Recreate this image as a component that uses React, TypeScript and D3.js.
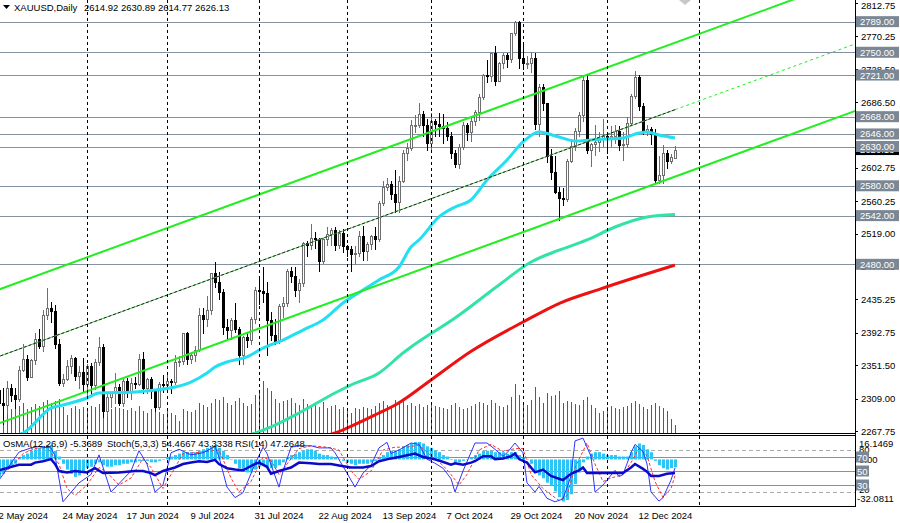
import React from "react";
import * as d3 from "d3";

// ---------- DATA ----------
const opens = [
  2320, 2303, 2301, 2322, 2314, 2309, 2346, 2360, 2336, 2358,
  2385, 2376, 2415, 2425, 2421, 2379, 2329, 2334, 2350, 2361,
  2338, 2343, 2327, 2350, 2326, 2355, 2375, 2293, 2311, 2316,
  2324, 2303, 2332, 2319, 2329, 2328, 2360, 2322, 2334, 2319,
  2298, 2327, 2326, 2331, 2330, 2356, 2357, 2392, 2359, 2364,
  2371, 2415, 2411, 2422, 2469, 2458, 2445, 2400, 2396, 2409,
  2397, 2364, 2387, 2384, 2410, 2447, 2446, 2443, 2409, 2390,
  2382, 2427, 2431, 2472, 2465, 2447, 2456, 2507, 2504, 2514,
  2512, 2484, 2512, 2518, 2524, 2504, 2520, 2503, 2500, 2493,
  2495, 2516, 2497, 2506, 2516, 2512, 2558, 2578, 2582, 2569,
  2559, 2586, 2622, 2628, 2657, 2657, 2672, 2658, 2634, 2662,
  2659, 2656, 2653, 2644, 2622, 2608, 2630, 2657, 2649, 2662,
  2674, 2693, 2721, 2720, 2749, 2714, 2736, 2747, 2742, 2774,
  2788, 2743, 2736, 2736, 2743, 2659, 2706, 2685, 2618, 2598,
  2572, 2565, 2563, 2612, 2631, 2650, 2670, 2715, 2625, 2633,
  2636, 2640, 2643, 2640, 2643, 2650, 2632, 2633, 2660, 2694,
  2718, 2681, 2648, 2652, 2646, 2587, 2594, 2622, 2612, 2614.92,
];
const highs = [
  2326, 2323, 2331, 2327, 2323, 2351, 2378, 2364, 2359, 2392,
  2397, 2422, 2450, 2432, 2428, 2385, 2340, 2358, 2364, 2362,
  2351, 2361, 2353, 2354, 2360, 2387, 2379, 2315, 2318, 2342,
  2327, 2334, 2335, 2335, 2336, 2366, 2368, 2335, 2336, 2320,
  2330, 2339, 2339, 2334, 2364, 2363, 2393, 2394, 2368, 2376,
  2424, 2425, 2440, 2469, 2483, 2470, 2448, 2410, 2412, 2431,
  2400, 2389, 2392, 2413, 2451, 2462, 2477, 2458, 2419, 2411,
  2429, 2439, 2474, 2477, 2477, 2461, 2509, 2510, 2531, 2521,
  2514, 2514, 2528, 2526, 2528, 2524, 2525, 2505, 2503, 2503,
  2523, 2529, 2508, 2517, 2528, 2560, 2586, 2590, 2586, 2600,
  2593, 2625, 2634, 2664, 2670, 2685, 2675, 2665, 2673, 2665,
  2673, 2671, 2661, 2648, 2625, 2633, 2661, 2660, 2667, 2676,
  2697, 2722, 2740, 2749, 2758, 2738, 2749, 2749, 2775, 2790,
  2790, 2760, 2745, 2750, 2749, 2710, 2709, 2686, 2627, 2618,
  2579, 2577, 2614, 2639, 2653, 2674, 2721, 2721, 2634, 2657,
  2648, 2665, 2645, 2656, 2658, 2656, 2648, 2667, 2697, 2726,
  2721, 2686, 2658, 2655, 2652, 2618, 2632, 2626, 2620, 2630.89,
];
const lows = [
  2285, 2277, 2291, 2306, 2297, 2306, 2344, 2333, 2336, 2353,
  2373, 2369, 2411, 2407, 2374, 2326, 2325, 2333, 2341, 2333,
  2322, 2319, 2314, 2315, 2321, 2352, 2286, 2287, 2298, 2303,
  2301, 2300, 2311, 2309, 2323, 2326, 2316, 2316, 2310, 2293,
  2296, 2318, 2318, 2316, 2327, 2351, 2353, 2353, 2354, 2357,
  2369, 2393, 2402, 2417, 2451, 2436, 2391, 2384, 2385, 2394,
  2353, 2353, 2375, 2378, 2405, 2430, 2432, 2364, 2384, 2378,
  2380, 2413, 2427, 2457, 2440, 2432, 2453, 2490, 2499, 2501,
  2471, 2482, 2505, 2504, 2498, 2501, 2496, 2490, 2472, 2480,
  2491, 2485, 2486, 2499, 2500, 2510, 2556, 2574, 2563, 2546,
  2547, 2585, 2613, 2625, 2649, 2655, 2643, 2625, 2624, 2643,
  2643, 2634, 2638, 2615, 2604, 2603, 2627, 2638, 2637, 2658,
  2664, 2690, 2712, 2713, 2708, 2713, 2730, 2731, 2737, 2772,
  2730, 2729, 2730, 2725, 2652, 2643, 2677, 2610, 2589, 2571,
  2536, 2555, 2560, 2610, 2625, 2643, 2663, 2622, 2605, 2619,
  2624, 2631, 2622, 2631, 2635, 2626, 2613, 2630, 2658, 2692,
  2676, 2646, 2645, 2633, 2583, 2584, 2583, 2603, 2609, 2614.77,
];
const closes = [
  2303, 2301, 2322, 2314, 2309, 2346, 2360, 2336, 2358, 2385,
  2376, 2415, 2425, 2421, 2379, 2329, 2334, 2350, 2361, 2338,
  2343, 2327, 2350, 2326, 2355, 2375, 2293, 2311, 2316, 2324,
  2303, 2332, 2319, 2329, 2328, 2360, 2322, 2334, 2319, 2298,
  2327, 2326, 2331, 2330, 2356, 2357, 2392, 2359, 2364, 2371,
  2415, 2411, 2422, 2469, 2458, 2445, 2400, 2396, 2409, 2397,
  2364, 2387, 2384, 2410, 2447, 2446, 2443, 2409, 2390, 2382,
  2427, 2431, 2472, 2465, 2447, 2456, 2507, 2504, 2514, 2512,
  2484, 2512, 2518, 2524, 2504, 2520, 2503, 2500, 2493, 2495,
  2516, 2497, 2506, 2516, 2512, 2558, 2578, 2582, 2569, 2559,
  2586, 2622, 2628, 2657, 2657, 2672, 2658, 2634, 2662, 2659,
  2656, 2653, 2644, 2622, 2608, 2630, 2657, 2649, 2662, 2674,
  2693, 2721, 2720, 2749, 2714, 2736, 2747, 2742, 2774, 2788,
  2743, 2736, 2736, 2743, 2659, 2706, 2685, 2618, 2598, 2572,
  2565, 2563, 2612, 2631, 2650, 2670, 2715, 2625, 2633, 2636,
  2640, 2643, 2640, 2643, 2650, 2632, 2633, 2660, 2694, 2718,
  2681, 2648, 2652, 2646, 2587, 2594, 2622, 2612, 2617, 2626.13,
];
const volumes = [
  28, 25, 22, 24, 26, 27, 30, 24, 26, 29,
  27, 31, 33, 30, 32, 34, 26, 18, 25, 27,
  24, 26, 25, 27, 26, 29, 35, 28, 24, 26,
  25, 24, 23, 25, 22, 27, 22, 20, 24, 23,
  21, 19, 22, 20, 18, 12, 24, 22, 21, 23,
  30, 28, 26, 30, 34, 33, 36, 30, 28, 32,
  35, 30, 27, 29, 38, 40, 52, 45, 42, 34,
  30, 32, 33, 35, 30, 28, 34, 29, 27, 30,
  26, 31, 25, 27, 28, 24, 26, 23, 20, 25,
  24, 26, 25, 24, 27, 30, 32, 28, 26, 33,
  30, 34, 28, 30, 27, 29, 26, 28, 30, 27,
  26, 25, 24, 28, 30, 26, 24, 25, 27, 29,
  31, 30, 28, 33, 30, 27, 26, 28, 36, 49,
  38, 30, 28, 33, 46, 36, 30, 40, 37, 38,
  42, 30, 32, 31, 29, 28, 33, 36, 28, 25,
  20, 22, 26, 27, 25, 24, 26, 27, 30, 32,
  29, 26, 24, 28, 30, 27, 25, 22, 14, 8,
];
const osma = [
  -12, -10, -7, -5, -3, 1, 3, 4, 6, 7,
  8, 9, 10, 10, 6, 2, -3, -7, -10, -12,
  -11, -9, -6, -5, -3, -2, -4, -5, -5, -4,
  -4, -3, -3, -2, -2, -1, -1, -1, -2, -2,
  -1, 0, 1, 2, 3, 4, 5, 5, 5, 5,
  6, 7, 8, 9, 10, 8, 6, 3, 0, -3,
  -6, -8, -9, -9, -7, -5, -4, -5, -6, -6,
  -4, -2, 1, 3, 4, 5, 6, 7, 7, 6,
  4, 3, 3, 2, 1, 0, -1, -2, -3, -4,
  -3, -3, -3, -2, -1, 1, 3, 5, 6, 6,
  7, 9, 10, 11, 12, 12, 11, 9, 8, 6,
  5, 3, 2, 0, -2, -2, -1, 0, 1, 3,
  4, 6, 6, 6, 5, 5, 5, 4, 5, 5,
  3, 1, 0, -3, -8, -11, -13, -16, -18, -22,
  -26, -29, -28, -24, -17, -9, -2, 2, 4, 5,
  5, 4, 3, 3, 3, 2, 2, 2, 5, 9,
  11, 10, 7, 5, -1, -4, -6, -7, -6, -5.3689,
];
const stochMain: [number, number][] = [
  [0, 37], [5, 77], [8, 83], [10, 85], [13, 83], [14, 72], [16, 6], [20, 33], [23, 45], [25, 73],
  [28, 20], [33, 50], [35, 79], [37, 60], [39, 20], [41, 30], [43, 76], [45, 81], [48, 73], [51, 76],
  [54, 85], [55, 70], [57, 27], [59, 12], [61, 19], [64, 60], [66, 84], [67, 75], [70, 27], [71, 50],
  [73, 84], [75, 86], [78, 86], [80, 83], [83, 83], [84, 76], [87, 47], [89, 27], [91, 47], [93, 58],
  [95, 83], [97, 91], [98, 75], [100, 80], [103, 90], [105, 88], [107, 67], [109, 61], [111, 54], [113, 39],
  [114, 20], [116, 50], [119, 90], [122, 90], [124, 81], [126, 71], [127, 76], [129, 90], [131, 76], [132, 33],
  [134, 20], [135, 28], [137, 11], [139, 6], [141, 10], [143, 43], [144, 93], [146, 97], [148, 71], [149, 20],
  [151, 30], [154, 51], [155, 42], [156, 45], [158, 76], [159, 88], [161, 78], [162, 60], [163, 20], [165, 7],
  [166, 12], [168, 37], [169, 54.4667],
];
const stochSignal: [number, number][] = [
  [0, 45], [3, 55], [6, 75], [9, 82], [12, 84], [15, 60], [17, 25], [19, 15], [22, 30], [25, 55],
  [27, 48], [30, 30], [33, 40], [36, 68], [38, 55], [41, 25], [43, 45], [46, 75], [49, 76], [52, 78],
  [55, 80], [58, 40], [60, 20], [63, 35], [66, 70], [68, 65], [70, 45], [72, 60], [75, 82], [78, 86],
  [82, 84], [85, 80], [88, 50], [90, 38], [93, 50], [96, 80], [99, 84], [102, 84], [105, 87], [108, 72],
  [111, 58], [113, 45], [115, 30], [117, 45], [120, 80], [123, 88], [126, 78], [129, 82], [131, 82], [133, 45],
  [136, 25], [138, 16], [140, 8], [142, 15], [144, 55], [147, 90], [149, 60], [151, 35], [153, 40], [156, 45],
  [158, 62], [160, 82], [162, 72], [164, 35], [166, 12], [168, 25], [169, 43.3338],
];
const rsi: [number, number][] = [
  [0, 51], [5, 59], [8, 59], [9, 62], [11, 64], [13, 67], [14, 60], [15, 50], [17, 48], [19, 50],
  [22, 48], [24, 54], [26, 47], [30, 48], [34, 50], [36, 50], [38, 47], [39, 44], [41, 50], [44, 55],
  [46, 60], [48, 62], [50, 64], [52, 63], [54, 66], [55, 60], [57, 54], [59, 52], [61, 51], [64, 60],
  [65, 62], [67, 56], [68, 46], [70, 50], [73, 55], [75, 62], [78, 61], [80, 60], [83, 60], [85, 58],
  [88, 55], [91, 55], [93, 57], [95, 64], [98, 68], [100, 70], [104, 75], [106, 70], [108, 68], [110, 65],
  [113, 59], [114, 61], [116, 59], [118, 62], [119, 64], [121, 71], [123, 71], [124, 67], [126, 68], [128, 71],
  [129, 75], [130, 67], [132, 62], [134, 48], [136, 52], [138, 43], [140, 39], [141, 37], [143, 46], [145, 51],
  [146, 55], [147, 47], [150, 47], [153, 47], [156, 47], [158, 55], [159, 60], [161, 53], [162, 49], [163, 43],
  [165, 43], [167, 46], [169, 47.2648],
];
const maFast: [number, number][] = [
  [4, 2262], [6, 2265.2], [13, 2297], [16, 2300.8], [22, 2309.8], [25, 2316.1], [34, 2317.4], [39, 2320], [44, 2323.8],
  [48, 2330.1], [52, 2341.6], [54, 2349.2], [57, 2355.6], [62, 2362], [66, 2373.4], [71, 2383.6], [76, 2396.3],
  [81, 2409], [86, 2430.7], [91, 2447.3], [95, 2460], [100, 2476.6], [103, 2502], [105, 2511], [110, 2540.3],
  [114, 2553], [118, 2561.9], [122, 2587.3], [127, 2612.8], [131, 2635.8], [135, 2648.5], [140, 2642.1],
  [144, 2637], [148, 2638.3], [152, 2639.6], [156, 2640.8], [160, 2647.2], [162, 2648.5], [165, 2644.6], [169, 2640.8],
];
const maMid: [number, number][] = [
  [61, 2260], [64, 2265], [68, 2272.9], [75, 2290.7], [84, 2316.1], [88, 2326.3], [95, 2341.6], [101, 2367],
  [103, 2374.7], [114, 2411.6], [125, 2453.6], [133, 2482.9], [140, 2498], [147, 2511], [154, 2527.5],
  [162, 2540.3], [169, 2543.5],
];
const maSlow: [number, number][] = [
  [81, 2261], [84, 2265.2], [87, 2271.5], [94.5, 2289.4], [99.5, 2302.1], [108, 2332.7], [117.75, 2368.3],
  [131, 2406.5], [140.25, 2430.7], [150.25, 2448.5], [160.25, 2465.1], [169, 2479],
];
const chUpper: [number, number][] = [[0, 2448.0], [169, 2762.2]];
const chMiddle: [number, number][] = [[0, 2362.7], [169, 2676.9]];
const chLower: [number, number][] = [[0, 2277.4], [169, 2591.6]];

const levelPrices = [2789, 2750, 2721, 2668, 2646, 2630, 2580, 2542, 2480];
const priceTicks = [2812.75, 2770.25, 2728.5, 2686.5, 2644.5, 2602.75, 2560.25, 2519.0, 2477.25, 2435.25, 2392.75, 2351.5, 2309.0, 2267.75];
const lastPrice = 2626.13;
const labelIdx = [0, 16, 32, 48, 64, 80, 96, 112, 128, 144, 160];
const labelText = ["2 May 2024", "24 May 2024", "17 Jun 2024", "9 Jul 2024", "31 Jul 2024", "22 Aug 2024", "13 Sep 2024", "7 Oct 2024", "29 Oct 2024", "20 Nov 2024", "12 Dec 2024"];
const monthIdx = [22, 42, 65, 87, 108, 131, 152, 175];
const indLevels = [80, 70, 50, 30, 20];

const FONT = "'Liberation Sans', Arial, sans-serif";

export default function App() {
  const W = 900, H = 523;
  const plotR = 855;
  const mainB = 433;
  const indT = 436, indB = 506;

  const x = d3.scaleLinear().domain([0, 1]).range([-1, 3]);
  const y = d3.scaleLinear().domain([2267.75, 2812.75]).range([431, 3]);
  const yv = d3.scaleLinear().domain([0, 100]).range([mainB, mainB - 100]);
  const yi = d3.scaleLinear().domain([0, 100]).range([indB, indT]);
  const yo = d3.scaleLinear().domain([-32.0811, 16.1469]).range([indB, indT]);

  const n = closes.length;
  const idx = d3.range(n);

  const maLine = d3.line<[number, number]>().x(d => x(d[0])).y(d => y(d[1])).curve(d3.curveMonotoneX);
  const indLine = d3.line<[number, number]>().x(d => x(d[0])).y(d => yi(d[1]));

  const chan = (pts: [number, number][], i0: number, i1: number) => {
    const s = (pts[1][1] - pts[0][1]) / (pts[1][0] - pts[0][0]);
    const p = (i: number) => pts[0][1] + s * (i - pts[0][0]);
    return { x1: x(i0), y1: y(p(i0)), x2: x(i1), y2: y(p(i1)) };
  };
  const cU = chan(chUpper, -2, 220);
  const cL = chan(chLower, -2, 220);
  const cM1 = chan(chMiddle, -2, 169);
  const cM2 = chan(chMiddle, 169, 220);

  const boxW = 41;
  return (
    <svg width={W} height={H} style={{ position: "absolute", left: 0, top: 0, display: "block", background: "#fff" }} fontFamily={FONT}>
      <defs>
        <clipPath id="mainClip"><rect x={0} y={0} width={plotR} height={mainB} /></clipPath>
        <clipPath id="indClip"><rect x={0} y={indT} width={plotR} height={indB - indT} /></clipPath>
      </defs>
      <rect x={0} y={0} width={W} height={H} fill="#fff" />

      {/* main chart */}
      <g clipPath="url(#mainClip)">
        {levelPrices.map(p => (
          <line key={"lv" + p} x1={0} x2={plotR} y1={Math.round(y(p)) + 0.5} y2={Math.round(y(p)) + 0.5} stroke="#8391a0" strokeWidth={1} />
        ))}
        <g shapeRendering="crispEdges">
          {idx.map(i => (
            <rect key={"v" + i} x={Math.round(x(i))} y={Math.round(yv(volumes[i]))} width={1} height={mainB - Math.round(yv(volumes[i]))} fill="#0f8f0f" />
          ))}
        </g>
        <g shapeRendering="crispEdges">
          {idx.map(i => {
            const cx = Math.round(x(i));
            const o = opens[i], c = closes[i];
            const up = c >= o;
            const top = Math.round(y(Math.max(o, c)));
            const bot = Math.round(y(Math.min(o, c)));
            const hh = Math.round(y(highs[i]));
            const ll = Math.round(y(lows[i]));
            const col = up ? "#6e6e6e" : "#000";
            return (
              <g key={"c" + i}>
                <line x1={cx + 0.5} x2={cx + 0.5} y1={hh} y2={ll + 1} stroke={col} strokeWidth={1} />
                {up ? (
                  <rect x={cx - 0.5} y={top + 0.5} width={2} height={Math.max(bot - top, 1)} fill="#fff" stroke={col} strokeWidth={1} />
                ) : (
                  <rect x={cx - 1} y={top} width={3} height={Math.max(bot - top + 1, 1)} fill="#000" />
                )}
              </g>
            );
          })}
        </g>
        <path d={maLine(maSlow) || ""} fill="none" stroke="#ee1111" strokeWidth={3} />
        <path d={maLine(maMid) || ""} fill="none" stroke="#33e3a6" strokeWidth={3} />
        <path d={maLine(maFast) || ""} fill="none" stroke="#22dff2" strokeWidth={3} />
        <line {...cU} stroke="#22ee22" strokeWidth={2} />
        <line {...cL} stroke="#22ee22" strokeWidth={2} />
        <line {...cM1} stroke="#55cc55" strokeWidth={1} />
        <line {...cM1} stroke="#222" strokeWidth={1} strokeDasharray="3,2" />
        <line {...cM2} stroke="#22ee22" strokeWidth={1} strokeDasharray="3,3" />
        <polygon points="679,0 691,0 685,5" fill="#c8c8c8" />
      </g>

      {/* indicator */}
      <g clipPath="url(#indClip)">
        {indLevels.map(l => (
          <line key={"il" + l} x1={0} x2={plotR} y1={Math.round(yi(l)) + 0.5} y2={Math.round(yi(l)) + 0.5}
            stroke={l === 80 || l === 20 ? "#aaaaaa" : "#8391a0"} strokeWidth={1}
            strokeDasharray={l === 80 || l === 20 ? "4,3" : undefined} />
        ))}
        {idx.map(i => {
          const v = osma[i];
          const y0 = yo(0), y1 = yo(v);
          return <rect key={"o" + i} x={Math.round(x(i)) - 1} y={Math.min(y0, y1)} width={3} height={Math.max(Math.abs(y1 - y0), 0.5)} fill="#2cc5f5" />;
        })}
        <path d={indLine(stochSignal) || ""} fill="none" stroke="#ff3030" strokeWidth={1} strokeDasharray="3,2" />
        <path d={indLine(stochMain) || ""} fill="none" stroke="#3333ff" strokeWidth={1} />
        <path d={indLine(rsi) || ""} fill="none" stroke="#0a0ac8" strokeWidth={2.5} />
      </g>

      {/* vertical month grid */}
      {monthIdx.map(m => (
        <g key={"g" + m}>
          <line x1={Math.round(x(m)) + 0.5} x2={Math.round(x(m)) + 0.5} y1={0} y2={mainB} stroke="#000" strokeWidth={1} strokeDasharray="3,3" />
          <line x1={Math.round(x(m)) + 0.5} x2={Math.round(x(m)) + 0.5} y1={indT} y2={indB} stroke="#000" strokeWidth={1} strokeDasharray="3,3" />
        </g>
      ))}

      {/* borders */}
      <line x1={0} x2={plotR} y1={mainB + 0.5} y2={mainB + 0.5} stroke="#000" />
      <line x1={0} x2={plotR} y1={indT - 0.5} y2={indT - 0.5} stroke="#000" />
      <line x1={0} x2={plotR} y1={indB + 0.5} y2={indB + 0.5} stroke="#000" />
      <line x1={plotR + 0.5} x2={plotR + 0.5} y1={0} y2={indB + 1} stroke="#000" />

      {/* price axis ticks */}
      {priceTicks.map(p => (
        <g key={"pt" + p}>
          <line x1={plotR} x2={plotR + 3} y1={Math.round(y(p)) + 0.5} y2={Math.round(y(p)) + 0.5} stroke="#000" />
          <text x={861} y={Math.max(y(p) + 3.5, 9)} fontSize={9.5} fill="#000">{p.toFixed(2)}</text>
        </g>
      ))}
      {/* last price box */}
      <rect x={plotR + 1} y={y(lastPrice) - 5.5} width={boxW + 2} height={11} fill="#000" />
      <text x={860} y={y(lastPrice) + 3.5} fontSize={9.5} fill="#fff">{lastPrice.toFixed(2)}</text>
      {levelPrices.map(p => (
        <g key={"lb" + p}>
          <rect x={plotR + 1} y={y(p) - 5.5} width={boxW + 2} height={11} fill="#7b8794" />
          <text x={860} y={y(p) + 3.5} fontSize={9.5} fill="#fff">{p.toFixed(2)}</text>
        </g>
      ))}

      {/* indicator axis */}
      <text x={859} y={446.5} fontSize={9.5} fill="#000">16.1469</text>
      <text x={859} y={453} fontSize={9.5} fill="#000">80</text>
      <text x={859} y={yo(0) + 3.5} fontSize={9.5} fill="#000">0.00</text>
      <text x={859} y={493} fontSize={9.5} fill="#000">20</text>
      <text x={857} y={502} fontSize={9.5} fill="#000">-32.0811</text>
      {[70, 50, 30].map(l => (
        <g key={"ib" + l}>
          <rect x={plotR + 1} y={yi(l) - 5.5} width={13} height={11} fill="#7b8794" />
          <text x={857} y={yi(l) + 3.5} fontSize={9.5} fill="#fff">{l}</text>
        </g>
      ))}

      {/* time axis */}
      {labelIdx.map((li, k) => (
        <text key={"tl" + li} x={x(li) - 0.5} y={519} fontSize={9.5} fill="#000">{labelText[k]}</text>
      ))}

      {/* header */}
      <polygon points="3,5 10,5 6.5,9" fill="#000" />
      <text x={14} y={11} fontSize={9.5} fill="#000">XAUUSD,Daily</text>
      <text x={84} y={11} fontSize={9.5} fill="#000">2614.92 2630.89 2614.77 2626.13</text>
      <text x={3} y={447} fontSize={9.5} fill="#000">OsMA(12,26,9) -5.3689</text>
      <text x={107} y={447} fontSize={9.5} fill="#000">Stoch(5,3,3) 54.4667 43.3338</text>
      <text x={235} y={447} fontSize={9.5} fill="#000">RSI(14) 47.2648</text>
    </svg>
  );
}
